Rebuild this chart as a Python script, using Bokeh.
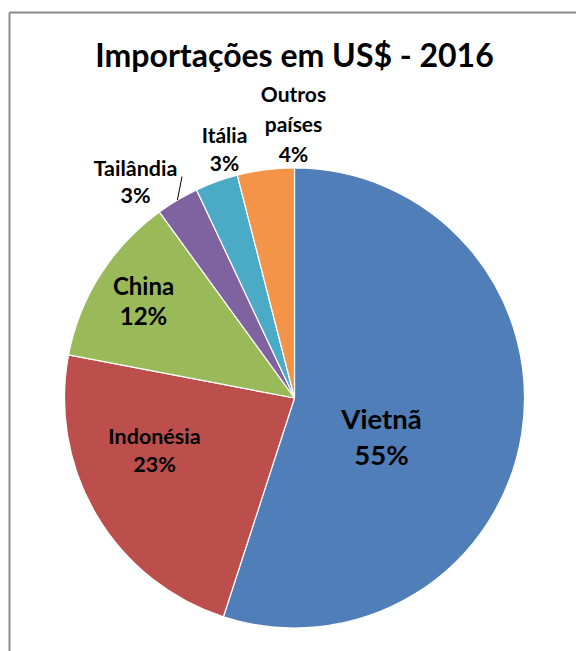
import math
from bokeh.plotting import figure
from bokeh.models import Range1d, ColumnDataSource
from bokeh.core.properties import value
from bokeh.embed import file_html
from bokeh.resources import INLINE

# ---- data ----
title_text = "Importações em US$ - 2016"
countries = ["Vietnã", "Indonésia", "China", "Tailândia", "Itália", "Outros\npaíses"]
shares = [55, 23, 12, 3, 3, 4]
colors = ["#4F7EB8", "#BC4F4C", "#9ABA59", "#7F63A1", "#4BABC6", "#F39449"]

# ---- layout (screen pixels of the page) ----
W, H = 576, 651
TXT = -10  # vertical text correction
def sx(X):
    return X
def sy(Y):
    return H - Y

cx, cy, R = sx(294), sy(397.5), 230

# label layout: x centre, first baseline, line step, font size (px)
lab_x = [381, 154, 143, 135, 224, 293]
lab_y0 = [428, 445, 295, 177, 144, 103]
lab_step = [36, 28, 30, 27, 28, 30]
lab_size = [27.5, 21.5, 24, 21.5, 21, 21]

p = figure(width=W, height=H, output_backend="svg", toolbar_location=None,
           x_range=Range1d(0, W), y_range=Range1d(0, H), min_border=0,
           border_fill_color="white", outline_line_color=None)
p.axis.visible = False
p.grid.visible = False
p.background_fill_color = "white"

# wedges
total = sum(shares)
starts, ends = [], []
acc = 0.0
for s in shares:
    a0 = math.pi / 2 - 2 * math.pi * acc / total
    acc += s
    a1 = math.pi / 2 - 2 * math.pi * acc / total
    starts.append(a0)
    ends.append(a1)

src = ColumnDataSource(dict(x=[cx] * len(shares), y=[cy] * len(shares),
                            start=starts, end=ends, color=colors))
p.wedge(x="x", y="y", radius=R, start_angle="start", end_angle="end",
        direction="clock", fill_color="color", line_color="white",
        line_width=1.2, source=src)

# labels
tx, ty, tt, ts = [], [], [], []
for i, (name, s) in enumerate(zip(countries, shares)):
    lines = name.split("\n") + [f"{s}%"]
    for k, ln in enumerate(lines):
        tx.append(sx(lab_x[i]))
        ty.append(sy(lab_y0[i] + k * lab_step[i] + TXT))
        tt.append(ln)
        ts.append(f"{lab_size[i]}px")
p.text(x=tx, y=ty, text=tt, text_font_size=ts, text_font=value("Lato"),
       text_font_style="bold", text_align="center", text_baseline="alphabetic",
       text_color="black")

# leader line for Tailândia (from pie edge at slice mid-angle)
i_t = 3
mid = (starts[i_t] + ends[i_t]) / 2
ex, ey = cx + R * math.cos(mid), cy + R * math.sin(mid)
p.segment(x0=[ex], y0=[ey], x1=[sx(181.5)], y1=[sy(176)], line_color="black", line_width=1)

# title
p.text(x=[sx(294)], y=[sy(64 + TXT)], text=[title_text], text_font_size="32px",
       text_font=value("Lato"), text_font_style="bold", text_align="center",
       text_baseline="alphabetic", text_color="black")

# chart frame (top and left edges visible)
p.segment(x0=[sx(9), sx(9)], y0=[0, sy(12)], x1=[sx(9), W], y1=[sy(12), sy(12)],
          line_color="#8A8A8A", line_width=2)

open("out.html", "w").write(file_html(p, INLINE))
